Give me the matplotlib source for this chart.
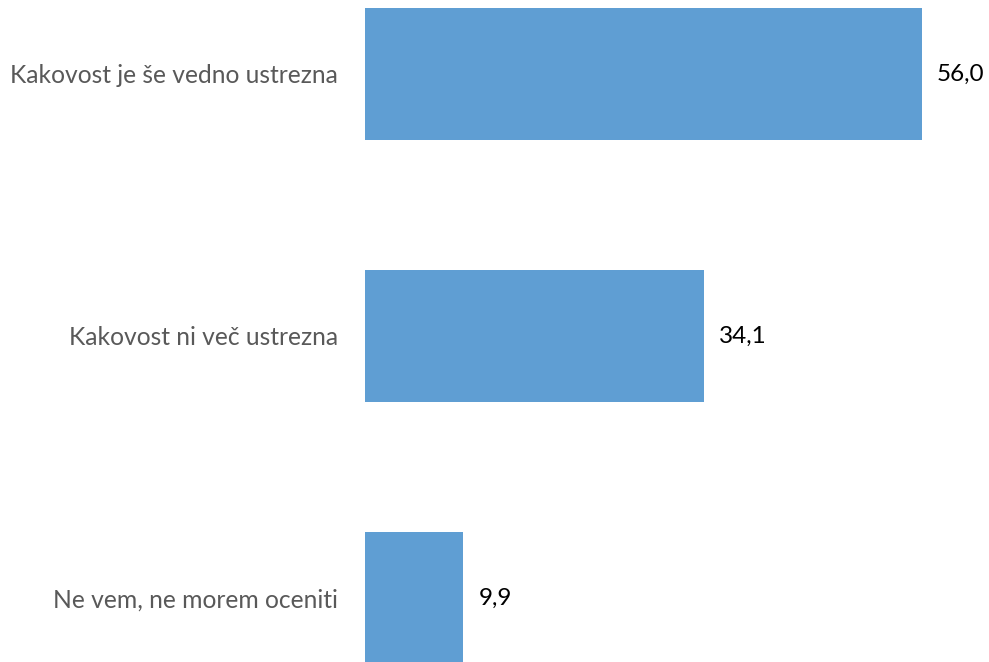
import matplotlib
matplotlib.use("Agg")
from matplotlib import pyplot as plt

# data
categories = ["Kakovost je še vedno ustrezna", "Kakovost ni več ustrezna", "Ne vem, ne morem oceniti"]
values = [56.0, 34.1, 9.9]
value_labels = ["56,0", "34,1", "9,9"]

plt.rcParams['font.family'] = ['Lato', 'DejaVu Sans']

fig = plt.figure(figsize=(9.89, 6.62), dpi=100)
ax = fig.add_axes([365 / 989, 0, 1 - 365 / 989, 1])

ypos = list(range(len(categories)))
ax.barh(ypos, values, height=0.504, color="#5F9ED3")

ax.set_xlim(0, 62.74)
ax.set_ylim(2.244, -0.282)

for y, v, lab in zip(ypos, values, value_labels):
    ax.text(v + 1.5, y, lab, va="center", ha="left", fontsize=17.5, color="black")

ax.set_yticks(ypos)
ax.set_yticklabels(categories, fontsize=17.7, color="#595959")
ax.tick_params(axis="y", length=0, pad=19.4)
ax.set_xticks([])
for s in ax.spines.values():
    s.set_visible(False)

fig.savefig("out.png", dpi=100)
